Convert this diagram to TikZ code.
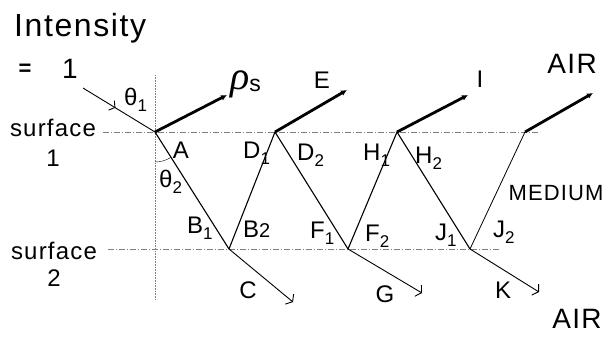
\documentclass[tikz,border=0pt]{standalone}
\usepackage{fontspec}
\setmainfont{Liberation Sans}[LetterSpace=5]
\newfontfamily\rhofont{Liberation Serif}
\usetikzlibrary{arrows.meta,decorations.markings,calc}

\newcommand{\subtx}[1]{\raisebox{-0.25em}{\fontsize{17}{17}\selectfont #1}}

\begin{document}
\begin{tikzpicture}[x=1pt, y=-1pt,
  ray/.style={line width=1.1pt, line join=round},
  refl/.style={line width=2.8pt, -{Latex[length=6pt,width=6pt]}},
  trans/.style={line width=0.9pt, -{Straight Barb[length=4pt,width=13pt]}},
  surf/.style={dash pattern=on 6pt off 2pt on 1pt off 2pt, line width=0.5pt, gray},
  lab/.style={font=\fontsize{24}{24}\selectfont, inner sep=0pt},
  big/.style={font=\fontsize{28}{28}\selectfont, inner sep=0pt}]
  \useasboundingbox (0,0) rectangle (608,338);

  % points where the ray meets the two surfaces
  \foreach \n/\x in {0/155,1/275,2/397,3/525} \coordinate (P\n) at (\x,132);
  \foreach \n/\x in {0/229,1/348,2/470} \coordinate (Q\n) at (\x,249);

  % surfaces and normal
  \coordinate (s1a) at (103,132); \coordinate (s1b) at (540,132);
  \coordinate (s2a) at (108,249); \coordinate (s2b) at (500,249);
  \coordinate (nt) at (155,75); \coordinate (nb) at (155,300);
  \draw[surf] (s1a) -- (s1b);
  \draw[surf] (s2a) -- (s2b);
  \draw[densely dotted, gray, line width=0.6pt] (nt) -- (nb);

  % incident ray
  \coordinate (src) at (83,88);
  \draw[line width=0.9pt, postaction=decorate, decoration={markings,
    mark=at position 0.45 with {\arrow{Straight Barb[length=4pt,width=11pt]}}}]
    (src) -- (P0);

  % zigzag inside the medium
  \draw[ray] (P0) -- (Q0) -- (P1) -- (Q1) -- (P2) -- (Q2);
  \draw[line width=0.8pt] (Q2) -- (P3);
  \draw (P0) ++(0,30) arc[start angle=90, end angle=58, radius=30];

  % reflected (upward) parts
  \foreach \n/\dx/\dy in {0/72/-37,1/72/-42,2/71/-37,3/68/-39} {
    \coordinate (R\n) at ($(P\n)+(\dx,\dy)$);
    \draw[refl] (P\n) -- (R\n);
  }

  % transmitted (downward) parts
  \coordinate (T0) at (293,302);
  \coordinate (T1) at (422,293);
  \coordinate (T2) at (539,292);
  \foreach \n in {0,1,2} \draw[trans] (Q\n) -- (T\n);

  % labels
  \node[inner sep=0pt, anchor=base west, font=\fontsize{32}{32}\selectfont] (intens) at (14,36) {Intensity};
  \node[lab, anchor=base, font=\bfseries\fontsize{22}{22}\selectfont] (eq) at (25,75) {=};
  \node[big, anchor=base] (one) at (70,78) {1};
  \node[lab, anchor=base west] (th1) at (124,105) {θ\subtx{1}};
  \node[lab, anchor=base west] (th2) at (159,187) {θ\subtx{2}};
  \node[inner sep=0pt, anchor=base west] (rhos) at (230,89)
    {{\rhofont\itshape\fontsize{40}{40}\selectfont ρ}\raisebox{-0.28em}{\fontsize{23}{23}\selectfont s}};
  \node[lab, align=center, anchor=north, font=\fontsize{24}{30}\selectfont] (surf1) at (53,119) {surface\\1};
  \node[lab, align=center, anchor=north, font=\fontsize{24}{27}\selectfont] (surf2) at (54,242) {surface\\2};

  \node[lab, anchor=base] (labA) at (181,158) {A};
  \node[lab, anchor=base west] (labD1) at (243,158) {D\subtx{1}};
  \node[lab, anchor=base west] (labD2) at (297,160) {D\subtx{2}};
  \node[lab, anchor=base west] (labH1) at (363,160) {H\subtx{1}};
  \node[lab, anchor=base west] (labH2) at (415,163) {H\subtx{2}};
  \node[lab, anchor=base west] (labB1) at (187,233) {B\subtx{1}};
  \node[lab, anchor=base west] (labB2) at (243,237) {B\raisebox{0pt}{\fontsize{20}{20}\selectfont 2}};
  \node[lab, anchor=base west] (labF1) at (310,238) {F\subtx{1}};
  \node[lab, anchor=base west] (labF2) at (365,241) {F\subtx{2}};
  \node[lab, anchor=base west] (labJ1) at (435,240) {J\subtx{1}};
  \node[lab, anchor=base west] (labJ2) at (493,237) {J\subtx{2}};
  \node[inner sep=0pt, font=\fontsize{22}{22}\selectfont] (medium) at (556,193) {MEDIUM};

  \node[lab, anchor=base] (labC) at (248,298) {C};
  \node[lab, anchor=base] (labG) at (385,302) {G};
  \node[lab, anchor=base] (labK) at (503,298) {K};
  \node[lab, anchor=base] (labE) at (322,88) {E};
  \node[lab, anchor=base] (labI) at (480,87) {I};
  \node[big, anchor=base] (airtop) at (572,73) {AIR};
  \node[big, anchor=base] (airbot) at (577,328) {AIR};
\end{tikzpicture}
\end{document}
